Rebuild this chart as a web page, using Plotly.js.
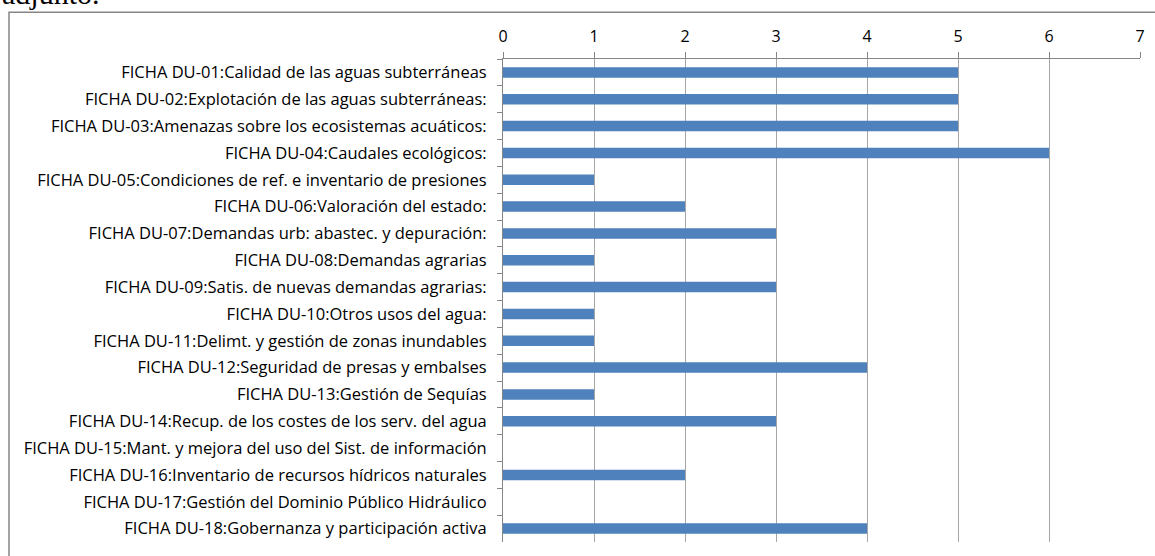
<!DOCTYPE html>
<html>
<head>
<meta charset="utf-8">
<script src="https://cdn.plot.ly/plotly-3.0.1.min.js"></script>
<style>html,body{margin:0;padding:0;background:#fff;}#chart{width:1155px;height:556px;}</style>
</head>
<body>
<div id="chart"></div>
<script>
const categories = [
  "FICHA DU-01:Calidad de las aguas subterráneas",
  "FICHA DU-02:Explotación de las aguas subterráneas:",
  "FICHA DU-03:Amenazas sobre los ecosistemas acuáticos:",
  "FICHA DU-04:Caudales ecológicos:",
  "FICHA DU-05:Condiciones de ref. e inventario de presiones",
  "FICHA DU-06:Valoración del estado:",
  "FICHA DU-07:Demandas urb: abastec. y depuración:",
  "FICHA DU-08:Demandas agrarias",
  "FICHA DU-09:Satis. de nuevas demandas agrarias:",
  "FICHA DU-10:Otros usos del agua:",
  "FICHA DU-11:Delimt. y gestión de zonas inundables",
  "FICHA DU-12:Seguridad de presas y embalses",
  "FICHA DU-13:Gestión de Sequías",
  "FICHA DU-14:Recup. de los costes de los serv. del agua",
  "FICHA DU-15:Mant. y mejora del uso del Sist. de información",
  "FICHA DU-16:Inventario de recursos hídricos naturales",
  "FICHA DU-17:Gestión del Dominio Público Hidráulico",
  "FICHA DU-18:Gobernanza y participación activa"
];
const values = [5, 5, 5, 6, 1, 2, 3, 1, 3, 1, 1, 4, 1, 3, 0, 2, 0, 4];
const xTicks = [0, 1, 2, 3, 4, 5, 6, 7];
const headerText = "adjunto.";

const W = 1155, H = 556;
const L = 503, R = 15, T = 59.3, B = 13.7;
const pw = W - L - R, ph = H - T - B;
const px = v => (v - L) / pw;
const py = v => (H - B - v) / ph;

const trace = {
  type: 'bar',
  orientation: 'h',
  x: values,
  y: categories,
  marker: {color: '#4F81BD', line: {width: 0}},
  hoverinfo: 'x+y'
};

const layout = {
  width: W, height: H,
  margin: {l: L, r: R, t: T, b: B, pad: 0},
  paper_bgcolor: '#ffffff',
  plot_bgcolor: '#ffffff',
  showlegend: false,
  bargap: 0.61,
  font: {family: '"Open Sans", sans-serif', color: '#000000', size: 16},
  xaxis: {
    side: 'top',
    range: [0, 7],
    tickvals: xTicks,
    ticktext: xTicks.map(String),
    showgrid: true,
    gridcolor: '#A6A6A6',
    gridwidth: 1,
    zeroline: false,
    showline: true,
    linecolor: '#868686',
    linewidth: 1,
    ticks: 'outside',
    ticklen: 6,
    tickcolor: '#868686',
    ticklabelstandoff: 4,
    tickfont: {size: 16, family: '"Open Sans", sans-serif', color: '#000'},
    fixedrange: true
  },
  yaxis: {
    type: 'category',
    autorange: 'reversed',
    tickson: 'boundaries',
    ticks: 'outside',
    ticklen: 5,
    tickcolor: '#868686',
    showline: true,
    linecolor: '#868686',
    linewidth: 1,
    showgrid: false,
    zeroline: false,
    ticklabelstandoff: 12,
    tickfont: {size: 16.5, family: '"Open Sans", sans-serif', color: '#000'},
    fixedrange: true
  },
  shapes: [{
    type: 'rect', xref: 'paper', yref: 'paper',
    x0: px(9), x1: px(1170), y0: py(570), y1: py(12.5),
    line: {color: '#868686', width: 1.5},
    fillcolor: 'rgba(0,0,0,0)', layer: 'below'
  }],
  annotations: [{
    xref: 'paper', yref: 'paper',
    x: px(0), y: py(12),
    xanchor: 'left', yanchor: 'bottom',
    text: headerText, showarrow: false,
    font: {family: '"Liberation Serif", serif', size: 30, color: '#000'}
  }]
};

Plotly.newPlot('chart', [trace], layout, {displayModeBar: false, staticPlot: true});
</script>
</body>
</html>
